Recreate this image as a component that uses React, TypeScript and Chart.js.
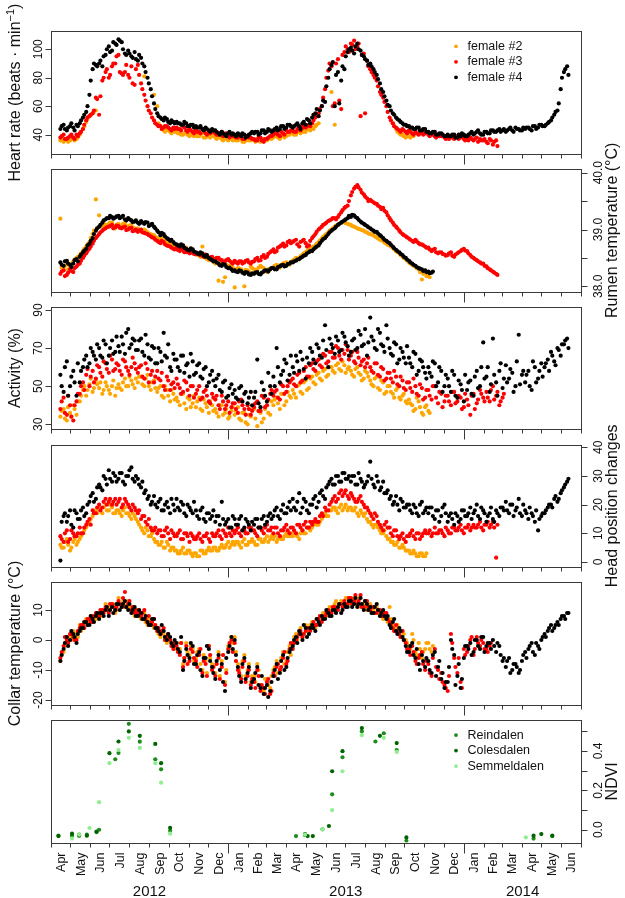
import { useEffect, useRef } from "react";
import { Chart, registerables } from "chart.js";
Chart.register(...registerables);

// ---------------- data ----------------
const X_START = "2012-04-01";
const X_END = "2014-07-01";
const SERIES_START = "2012-04-16";
const SAMPLE_STEP_DAYS = 5; // "A" readings every 5 days; "B" readings 2 days after each A
const B_OFFSET_DAYS = 2;

const MONTH_NAMES = ["Jan", "Feb", "Mar", "Apr", "May", "Jun", "Jul", "Aug", "Sep", "Oct", "Nov", "Dec"];
const YEAR_LABELS = ["2012", "2013", "2014"];
const YEAR_LABEL_DATES = ["2012-09-01", "2013-07-02", "2014-04-02"];

const FEMALE_NAMES = ["female #2", "female #3", "female #4"];
const SITE_NAMES = ["Reindalen", "Colesdalen", "Semmeldalen"];

// Heart rate (beats/min)
const hrF2 = [
  36, 35, 37, 36, 38, 37, 40, 44, 49, 53, 55, 57,
  null, null, null, null, null, null, null, null, null, null, null, null,
  null, null, 81, null, null, 68, 60, 46, 43, 44, 42, 43,
  42, 41, 40, 42, 39, 41, 40, 39, 41, 38, 40, 39,
  38, 39, 37, 38, 36, 38, 37, 36, 38, 35, 37, 36,
  36, 37, 35, 37, 36, 38, 38, 39, 37, 40, 39, 40,
  41, 40, 42, 43, 42, 44, 45, 46, 48, null, null, null,
  70, 47, null, null, null, null, null, null, null, null, null, null,
  null, null, null, null, null, null, null, 48, 44, 41, 40, 38,
  39, 40,
];
const hrF2B = [
  37, 36, 35, 37, 36, 38, 42, 46, 51, 54, 56, null,
  null, null, null, null, null, null, null, null, null, null, null, null,
  null, null, null, null, null, null, 48, 44, 42, 43, 41, 42,
  41, 40, 41, 40, 40, 39, 39, 40, 38, 39, 38, 40,
  37, 38, 36, 37, 37, 36, 36, 37, 35, 36, 36, 37,
  35, 36, 37, 36, 37, 37, 39, 38, 39, 38, 40, 41,
  40, 42, 41, 42, 44, 43, 44, 47, null, null, null, null,
  null, null, null, null, null, null, null, null, null, null, null, null,
  null, null, null, null, null, null, null, null, 42, 40, 39, 39,
  38, 39,
];
const hrF3 = [
  38, 40, 37, 39, 38, 40, 41, 44, 50, 53, 55, 66,
  54, 78, 84, 80, 88, 90, 96, 83, 84, 82, 88, 75,
  89, 76, 68, 60, 55, 50, 47, 46, 45, 46, 44, 45,
  45, 44, 46, 43, 44, 42, 43, 42, 44, 41, 42, 43,
  41, 40, 42, 40, 39, 40, 39, 38, 40, 37, 39, 38,
  37, 36, 38, 35, 37, 39, 40, 42, 39, 41, 43, 42,
  43, 42, 44, 46, 45, 47, 48, 52, 55, 60, 72, 85,
  88, 62, 93, 58, 98, 100, 104, 106, 102, 53, 97, 92,
  86, 82, 78, 70, 66, 60, 52, 48, 45, 43, 44, 42,
  43, 41, 42, 40, 42, 41, 40, 41, 39, 40, 39, 38,
  38, 39, 37, 39, 38, 37, 37, 38, 36, 38, 37, 36,
  35, 37, 33, 36,
];
const hrF3B = [
  39, 37, 38, 40, 37, 39, 42, 47, 52, 54, 57, 65,
  67, 80, 86, 82, 90, 95, 84, 82, 89, 80, 76, 86,
  82, 72, 64, 57, 52, 48, 46, 44, 46, 45, 43, 44,
  44, 43, 45, 42, 43, 41, 42, 41, 43, 40, 41, 42,
  40, 41, 39, 41, 38, 39, 38, 39, 37, 38, 38, 37,
  36, 38, 36, 37, 38, 39, 41, 40, 42, 40, 42, 43,
  42, 44, 43, 45, 46, 46, 50, 53, 58, 66, 80, 90,
  60, 90, 64, 96, 102, 98, 103, 100, 104, 96, 55, 88,
  84, 80, 74, 68, 63, 56, 50, 46, 44, 42, 43, 41,
  42, 40, 41, 41, 40, 42, 39, 40, 38, 39, 40, 37,
  37, 38, 38, 37, 39, 36, 36, 37, 37, 35, 36, 37,
  34, 36, 35, 32,
];
const hrF4 = [
  44, 47, 43, 46, 45, 47, 48, 52, 56, 68, 86, 89,
  90, 88, 96, 102, 99, 104, 107, 105, 97, 99, 95, 98,
  92, 94, 88, 80, 72, 62, 55, 52, 50, 51, 48, 49,
  49, 48, 47, 48, 46, 47, 46, 45, 44, 45, 43, 44,
  43, 41, 42, 40, 41, 40, 40, 41, 39, 40, 39, 41,
  41, 42, 41, 43, 42, 43, 43, 45, 44, 46, 45, 47,
  45, 47, 46, 48, 47, 50, 52, 55, 53, 60, 63, 80,
  89, 60, 84, 78, 86, 98, 101, 97, 104, 99, 95, 92,
  90, 86, 82, 76, 70, 64, 60, 55, 52, 50, 48, 47,
  46, 45, 44, 45, 43, 44, 42, 41, 42, 40, 41, 39,
  40, 39, 40, 38, 39, 40, 39, 41, 40, 42, 41, 40,
  42, 41, 43, 42, 44, 43, 42, 44, 43, 45, 44, 43,
  44, 45, 43, 46, 45, 47, 46, 48, 50, 54, 57, 72,
  84, 88,
];
const hrF4B = [
  46, 44, 45, 48, 43, 46, 50, 54, 60, 78, 90, 88,
  92, 95, 100, 98, 105, 103, 106, 100, 96, 97, 94, 93,
  96, 90, 84, 76, 67, 58, 53, 51, 52, 49, 50, 48,
  48, 47, 49, 46, 47, 45, 45, 46, 43, 44, 42, 43,
  42, 40, 41, 39, 42, 41, 39, 40, 41, 38, 40, 42,
  42, 40, 43, 41, 44, 42, 44, 43, 46, 44, 47, 46,
  46, 48, 44, 49, 51, 48, 54, 58, 57, 64, 74, 86,
  91, 82, 62, 88, 95, 100, 99, 102, 100, 96, 93, 89,
  88, 84, 79, 72, 67, 61, 57, 54, 51, 49, 47, 46,
  45, 44, 45, 43, 44, 42, 41, 42, 40, 41, 40, 39,
  39, 40, 38, 40, 41, 39, 40, 42, 41, 43, 40, 42,
  41, 43, 42, 43, 42, 44, 43, 45, 42, 44, 43, 45,
  45, 44, 46, 44, 47, 46, 47, 49, 52, 56, 62, 80,
  86, 82,
];

// Rumen temperature (°C)
const rumenF2 = [
  39.19, 38.3, 38.38, 38.34, 38.44, 38.5, 38.55, 38.62, 38.7, 38.78, 38.92, 39.53,
  39.25, 39.05, 39.08, 39.1, 39.12, 39.02, 39.1, 39.06, 39.12, 39.04, 39.08, 39.02,
  39.02, 38.98, 39.0, 38.95, 38.92, 38.9, 38.85, 38.82, 38.88, 38.8, 38.76, 38.74,
  38.7, 38.72, 38.66, 38.68, 38.62, 38.6, 38.58, 38.54, 38.7, 38.5, 38.46, 38.48,
  38.4, 38.1, 38.42, 38.16, 38.36, 38.38, 37.98, 38.32, 38.3, 38.0, 38.28, 38.35,
  38.3, 38.28, 38.36, 38.32, 38.25, 38.3, 38.34, 38.38, 38.33, 38.4, 38.42, 38.38,
  38.45, 38.5, 38.48, 38.56, 38.6, 38.64, 38.68, 38.72, 38.78, 38.84, 38.9, 38.95,
  39.0, 39.05, 39.08, 39.12, 39.14, 39.1, 39.08, 39.05, 39.02, 39.0, 38.98, 38.95,
  38.92, 38.9, 38.86, 38.82, 38.8, 38.75, 38.72, 38.68, 38.62, 38.58, 38.52, 38.48,
  38.42, 38.38, 38.35, 38.3, 38.12, 38.28, 38.2,
];
const rumenF2B = [
  38.33, 38.36, 38.3, 38.4, 38.47, 38.52, 38.58, 38.66, 38.74, 38.85, 38.98, 39.02,
  39.06, 39.1, 39.06, 39.12, 39.06, 39.08, 39.04, 39.1, 39.06, 39.07, 39.04, 39.0,
  39.0, 38.96, 38.98, 38.93, 38.9, 38.87, 38.84, 38.86, 38.82, 38.78, 38.75, 38.72,
  38.71, 38.68, 38.67, 38.64, 38.61, 38.59, 38.56, 38.52, 38.52, 38.48, 38.47, 38.43,
  38.41, 38.38, 38.08, 38.38, 38.34, 38.33, 38.3, 38.31, 38.27, 38.29, 38.26, 38.32,
  38.29, 38.33, 38.34, 38.28, 38.3, 38.32, 38.36, 38.35, 38.38, 38.41, 38.4, 38.43,
  38.47, 38.49, 38.53, 38.58, 38.62, 38.66, 38.7, 38.75, 38.81, 38.87, 38.92, 38.98,
  39.02, 39.07, 39.1, 39.13, 39.11, 39.09, 39.06, 39.04, 39.01, 38.99, 38.96, 38.93,
  38.91, 38.88, 38.84, 38.81, 38.77, 38.73, 38.7, 38.65, 38.6, 38.55, 38.5, 38.45,
  38.4, 38.36, 38.32, 38.25, 38.22, 38.18, 38.16,
];
const rumenF3 = [
  38.22, 38.28, 38.2, 38.3, 38.25, 38.35, 38.4, 38.5, 38.58, 38.66, 38.75, 38.85,
  38.92, 38.98, 39.02, 39.05, 39.08, 39.04, 39.06, 39.02, 39.05, 39.0, 39.03, 38.98,
  38.96, 39.0, 38.94, 38.92, 38.88, 38.85, 38.8, 38.76, 38.78, 38.72, 38.7, 38.66,
  38.68, 38.62, 38.64, 38.6, 38.58, 38.62, 38.56, 38.58, 38.54, 38.56, 38.5, 38.52,
  38.48, 38.5, 38.46, 38.44, 38.48, 38.42, 38.45, 38.4, 38.44, 38.42, 38.46, 38.4,
  38.44, 38.5, 38.46, 38.55, 38.52, 38.6, 38.65, 38.62, 38.7, 38.75, 38.72, 38.8,
  38.78, 38.82, 38.7, 38.8, 38.76, 38.72, 38.85, 38.92, 39.0, 39.05, 39.1, 39.15,
  39.18, 39.2, 39.22, 39.3, 39.38, 39.42, 39.6, 39.72, 39.78, 39.7, 39.62, 39.55,
  39.52, 39.48, 39.45, 39.4, 39.38, 39.3, 39.2, 39.12, 39.05, 38.98, 38.92, 38.88,
  38.84, 38.8, 38.82, 38.76, 38.74, 38.7, 38.68, 38.62, 38.66, 38.58, 38.6, 38.56,
  38.55, 38.6, 38.52, 38.58, 38.62, 38.66, 38.62, 38.55, 38.5, 38.46, 38.42, 38.4,
  38.35, 38.3, 38.26, 38.22,
];
const rumenF3B = [
  38.26, 38.18, 38.24, 38.27, 38.32, 38.38, 38.45, 38.54, 38.62, 38.7, 38.8, 38.88,
  38.95, 39.0, 39.04, 39.06, 39.02, 39.07, 39.03, 39.04, 38.99, 39.02, 38.97, 39.0,
  38.98, 38.95, 38.93, 38.9, 38.86, 38.82, 38.78, 38.8, 38.74, 38.71, 38.68, 38.65,
  38.64, 38.66, 38.6, 38.62, 38.59, 38.57, 38.57, 38.55, 38.52, 38.54, 38.51, 38.48,
  38.5, 38.47, 38.43, 38.46, 38.45, 38.4, 38.42, 38.44, 38.4, 38.45, 38.42, 38.43,
  38.48, 38.45, 38.52, 38.5, 38.57, 38.62, 38.6, 38.68, 38.72, 38.7, 38.78, 38.76,
  38.8, 38.74, 38.78, 38.82, 38.7, 38.8, 38.88, 38.96, 39.02, 39.08, 39.12, 39.16,
  39.2, 39.18, 39.26, 39.34, 39.4, 39.5, 39.66, 39.75, 39.74, 39.65, 39.58, 39.5,
  39.5, 39.46, 39.42, 39.36, 39.33, 39.25, 39.16, 39.08, 39.02, 38.95, 38.9, 38.86,
  38.82, 38.78, 38.79, 38.74, 38.72, 38.68, 38.65, 38.64, 38.6, 38.6, 38.57, 38.54,
  38.58, 38.54, 38.56, 38.6, 38.64, 38.63, 38.58, 38.52, 38.48, 38.44, 38.4, 38.36,
  38.32, 38.28, 38.24, 38.2,
];
const rumenF4 = [
  38.42, 38.36, 38.45, 38.38, 38.4, 38.48, 38.52, 38.6, 38.66, 38.75, 38.85, 38.98,
  39.05, 39.12, 39.18, 39.2, 39.22, 39.21, 39.24, 39.22, 39.18, 39.2, 39.16, 39.14,
  39.12, 39.15, 39.1, 39.12, 39.08, 39.05, 38.98, 38.9, 38.92, 38.85, 38.8, 38.78,
  38.74, 38.7, 38.72, 38.66, 38.63, 38.65, 38.6, 38.56, 38.58, 38.52, 38.5, 38.46,
  38.44, 38.4, 38.36, 38.38, 38.32, 38.3, 38.28, 38.25, 38.27, 38.22, 38.24, 38.2,
  38.22, 38.25, 38.21, 38.26, 38.28, 38.3, 38.32, 38.3, 38.35, 38.38, 38.36, 38.4,
  38.42, 38.45, 38.48, 38.52, 38.55, 38.6, 38.62, 38.68, 38.72, 38.8, 38.85, 38.92,
  38.98, 39.02, 39.08, 39.12, 39.16, 39.2, 39.22, 39.25, 39.2, 39.14, 39.1, 39.06,
  39.02, 38.98, 38.96, 38.9, 38.85, 38.8, 38.76, 38.7, 38.64, 38.6, 38.55, 38.5,
  38.45, 38.4, 38.36, 38.32, 38.3, 38.28, 38.26, 38.24,
];
const rumenF4B = [
  38.38, 38.44, 38.4, 38.34, 38.46, 38.44, 38.56, 38.63, 38.72, 38.8, 38.92, 39.02,
  39.08, 39.16, 39.2, 39.24, 39.19, 39.23, 39.2, 39.24, 39.16, 39.18, 39.13, 39.16,
  39.1, 39.12, 39.13, 39.06, 39.1, 39.02, 38.95, 38.94, 38.88, 38.83, 38.82, 38.75,
  38.72, 38.74, 38.68, 38.64, 38.67, 38.61, 38.58, 38.6, 38.54, 38.55, 38.48, 38.44,
  38.42, 38.37, 38.39, 38.34, 38.33, 38.27, 38.26, 38.28, 38.24, 38.25, 38.21, 38.23,
  38.24, 38.22, 38.24, 38.28, 38.26, 38.32, 38.3, 38.34, 38.37, 38.35, 38.39, 38.42,
  38.44, 38.47, 38.5, 38.54, 38.58, 38.62, 38.65, 38.7, 38.76, 38.83, 38.88, 38.95,
  39.0, 39.05, 39.1, 39.14, 39.18, 39.24, 39.26, 39.22, 39.17, 39.12, 39.08, 39.04,
  39.0, 38.96, 38.93, 38.88, 38.82, 38.78, 38.73, 38.67, 38.62, 38.57, 38.52, 38.47,
  38.42, 38.38, 38.34, 38.31, 38.27, 38.25, 38.23, 38.26,
];

// Activity (%)
const actF2 = [
  34, 38, 32, 36, 40, 35, 42, 48, 45, 51, 47, 53,
  49, 46, 52, 48, 50, 45, 51, 48, 54, 50, 53, 49,
  52, 55, 50, 56, 48, 53, 47, 50, 44, 48, 42, 46,
  44, 40, 46, 38, 43, 41, 39, 44, 37, 41, 36, 40,
  38, 34, 40, 36, 33, 37, 35, 39, 32, 36, 30, 34,
  38, 29, 36, 33, 40, 35, 40, 44, 38, 46, 42, 45,
  48, 44, 51, 46, 53, 49, 55, 51, 57, 53, 59, 56,
  60, 57, 62, 58, 61, 59, 58, 55, 60, 56, 54, 57,
  53, 50, 55, 48, 52, 47, 50, 46, 48, 44, 45, 42,
  43, 40, 38, 42, 36, 39, 37,
];
const actF2B = [
  37, 33, 39, 34, 38, 42, 45, 50, 48, 54, 49, 51,
  52, 48, 50, 46, 53, 49, 49, 52, 50, 55, 51, 54,
  55, 51, 54, 50, 52, 49, 49, 45, 50, 45, 48, 43,
  42, 46, 41, 44, 39, 45, 42, 38, 43, 39, 42, 37,
  36, 40, 35, 38, 34, 39, 37, 33, 36, 31, 35, 38,
  33, 37, 31, 38, 36, 42, 43, 41, 46, 40, 47, 44,
  46, 50, 47, 52, 48, 54, 52, 56, 54, 58, 55, 60,
  58, 61, 59, 63, 57, 60, 56, 59, 57, 53, 58, 55,
  51, 54, 49, 53, 46, 50, 47, 44, 49, 43, 46, 41,
  41, 37, 44, 39, 35, 40, 36,
];
const actF3 = [
  38, 44, 35, 40, 32, 42, 46, 52, 56, 50, 58, 54,
  60, 55, 62, 57, 64, 59, 61, 56, 63, 58, 60, 62,
  57, 61, 54, 59, 56, 52, 58, 53, 50, 55, 48, 52,
  54, 49, 47, 52, 45, 50, 46, 50, 44, 48, 42, 46,
  43, 40, 45, 38, 42, 39, 41, 36, 43, 38, 40, 35,
  39, 42, 37, 44, 40, 46, 45, 48, 43, 50, 47, 52,
  54, 50, 57, 53, 60, 55, 62, 58, 64, 60, 66, 63,
  68, 65, 70, 64, 67, 69, 66, 63, 68, 61, 64, 62,
  60, 57, 62, 55, 59, 54, 57, 52, 55, 50, 53, 48,
  52, 47, 50, 45, 49, 44, 48, 43, 50, 41, 46, 42,
  45, 40, 47, 42, 44, 39, 43, 35, 46, 41, 48, 44,
  47, 42, 50, 45, 40, 44,
];
const actF3B = [
  42, 36, 45, 34, 40, 46, 50, 48, 59, 55, 52, 61,
  57, 63, 59, 66, 58, 62, 58, 64, 60, 56, 65, 59,
  60, 55, 62, 52, 58, 55, 54, 57, 48, 53, 51, 49,
  51, 46, 53, 48, 50, 44, 48, 43, 47, 45, 41, 44,
  45, 38, 42, 40, 36, 41, 38, 42, 40, 35, 38, 37,
  41, 37, 45, 39, 43, 48, 47, 44, 51, 46, 50, 53,
  51, 56, 52, 58, 55, 61, 59, 63, 61, 67, 62, 68,
  65, 71, 66, 69, 72, 64, 68, 62, 65, 63, 60, 65,
  58, 62, 56, 60, 53, 57, 54, 58, 51, 55, 49, 52,
  49, 54, 46, 51, 43, 48, 45, 50, 44, 47, 39, 45,
  42, 47, 41, 45, 38, 46, 40, 45, 38, 43, 46, 42,
  44, 48, 43, 47, 42, 46,
];
const actF4 = [
  56, 47, 63, 50, 58, 45, 52, 60, 66, 62, 68, 64,
  70, 65, 72, 66, 74, 68, 71, 76, 67, 80, 72, 74,
  69, 75, 66, 72, 64, 70, 62, 68, 78, 65, 60, 67,
  64, 58, 66, 61, 55, 63, 57, 62, 54, 60, 52, 58,
  50, 56, 47, 53, 45, 51, 48, 43, 50, 46, 41, 47,
  44, 64, 39, 48, 42, 50, 55, 70, 52, 58, 62, 56,
  60, 66, 58, 64, 54, 62, 68, 62, 70, 65, 82, 60,
  72, 67, 74, 69, 76, 71, 68, 75, 70, 77, 72, 66,
  86, 74, 69, 78, 71, 82, 70, 66, 72, 64, 68, 62,
  65, 60, 67, 58, 63, 57, 60, 55, 62, 52, 58, 50,
  54, 47, 56, 44, 51, 42, 48, 53, 45, 58, 50, 73,
  55, 47, 75, 52, 58, 49, 61, 54, 57, 50, 77, 56,
  52, 58, 48, 60, 54, 62, 60, 64, 68, 63, 70, 66,
  72, 75,
];
const actF4B = [
  50, 60, 45, 55, 52, 62, 58, 64, 60, 70, 66, 72,
  66, 74, 62, 70, 67, 76, 68, 72, 78, 70, 75, 69,
  74, 68, 77, 65, 71, 62, 70, 63, 66, 72, 58, 64,
  60, 66, 57, 62, 67, 56, 61, 55, 59, 50, 56, 53,
  54, 48, 52, 44, 49, 46, 44, 49, 42, 47, 44, 40,
  47, 41, 52, 45, 57, 46, 50, 60, 56, 64, 53, 66,
  57, 63, 68, 59, 65, 70, 64, 72, 66, 74, 69, 75,
  70, 76, 68, 78, 73, 66, 74, 69, 79, 71, 80, 73,
  76, 70, 80, 72, 68, 75, 67, 73, 62, 70, 65, 71,
  62, 68, 56, 64, 60, 54, 57, 63, 50, 60, 47, 56,
  50, 58, 45, 53, 48, 56, 52, 46, 55, 49, 60, 54,
  60, 51, 56, 45, 62, 54, 52, 59, 47, 63, 51, 58,
  56, 50, 63, 52, 58, 55, 62, 58, 66, 61, 69, 72,
  74, 70,
];

// Head position changes
const headF2 = [
  6, 5, 8, 4, 7, 6, 8, 10, 12, 14, 16, 18,
  19, 17, 20, 18, 19, 17, 18, 16, 19, 17, 15, 16,
  14, 12, 10, 11, 9, 8, 7, 6, 5, 7, 4, 5,
  4, 3, 5, 3, 4, 2, 3, 2, 4, 3, 5, 4,
  5, 4, 6, 5, 7, 6, 6, 7, 5, 8, 6, 7,
  7, 6, 8, 7, 9, 8, 8, 7, 9, 8, 10, 9,
  9, 10, 8, 11, 10, 12, 12, 14, 13, 15, 17, 16,
  18, 19, 17, 20, 19, 18, 19, 18, 17, 18, 16, 15,
  14, 12, 13, 11, 10, 9, 8, 7, 6, 5, 6, 4,
  4, 3, 3, 2, 3, 2,
];
const headF2B = [
  5, 7, 6, 5, 8, 7, 9, 11, 13, 15, 17, 17,
  18, 19, 18, 20, 17, 18, 17, 18, 17, 16, 17, 15,
  13, 11, 12, 9, 10, 7, 6, 7, 5, 6, 5, 4,
  3, 4, 3, 4, 3, 3, 2, 4, 3, 4, 4, 5,
  4, 5, 5, 6, 5, 7, 7, 6, 7, 6, 7, 8,
  6, 8, 7, 8, 7, 9, 9, 8, 8, 9, 9, 10,
  10, 9, 10, 10, 12, 11, 13, 13, 14, 16, 16, 18,
  19, 18, 19, 18, 20, 19, 18, 19, 16, 17, 17, 14,
  13, 13, 12, 10, 11, 8, 7, 6, 7, 5, 5, 4,
  3, 4, 2, 3, 2, 3,
];
const headF3 = [
  9, 7, 11, 8, 10, 9, 12, 10, 13, 15, 18, 17,
  20, 19, 22, 21, 20, 22, 21, 19, 22, 20, 18, 19,
  17, 15, 16, 13, 12, 11, 10, 11, 9, 12, 8, 10,
  9, 11, 8, 10, 7, 9, 8, 10, 7, 9, 8, 10,
  9, 11, 8, 10, 12, 9, 10, 12, 9, 11, 10, 12,
  11, 9, 12, 10, 13, 11, 10, 12, 9, 11, 13, 10,
  12, 10, 13, 11, 14, 12, 13, 15, 14, 17, 19, 18,
  21, 23, 22, 25, 24, 23, 24, 22, 21, 23, 20, 19,
  17, 15, 16, 13, 11, 14, 12, 9, 11, 8, 10, 7,
  9, 11, 8, 10, 9, 11, 10, 9, 12, 10, 11, 9,
  11, 10, 12, 11, 13, 10, 12, 11, 13, 12, 14, 11,
  13, 12, 14, 1.5,
];
const headF3B = [
  8, 10, 7, 11, 9, 10, 10, 12, 14, 13, 17, 19,
  18, 21, 20, 22, 21, 20, 22, 20, 21, 19, 20, 18,
  18, 16, 14, 15, 11, 12, 11, 9, 11, 10, 11, 9,
  10, 8, 10, 9, 10, 8, 9, 8, 9, 10, 7, 9,
  10, 9, 11, 9, 10, 11, 11, 10, 11, 10, 12, 11,
  10, 12, 11, 12, 11, 12, 12, 10, 11, 12, 11, 12,
  11, 13, 12, 13, 12, 14, 14, 14, 16, 16, 18, 20,
  22, 21, 24, 23, 25, 22, 23, 21, 22, 21, 19, 18,
  16, 17, 14, 12, 13, 12, 10, 11, 9, 9, 8, 9,
  10, 9, 10, 8, 10, 10, 11, 10, 10, 11, 10, 12,
  10, 12, 11, 12, 11, 12, 13, 12, 12, 13, 12, 13,
  14, 13, 12, 13,
];
const headF4 = [
  0.5, 16, 14, 18, 12, 17, 15, 19, 17, 21, 24, 22,
  27, 25, 29, 32, 28, 30, 29, 31, 27, 30, 33, 28,
  29, 26, 24, 22, 20, 23, 19, 22, 18, 21, 17, 20,
  22, 18, 20, 16, 19, 17, 18, 15, 19, 14, 17, 16,
  14, 16, 21, 13, 15, 12, 15, 13, 16, 12, 14, 11,
  13, 15, 12, 16, 14, 17, 16, 19, 15, 20, 17, 21,
  22, 18, 24, 19, 21, 17, 20, 23, 21, 25, 22, 27,
  29, 27, 30, 28, 31, 29, 28, 30, 27, 29, 26, 28,
  35, 27, 30, 25, 28, 24, 22, 20, 23, 18, 21, 19,
  20, 17, 19, 16, 21, 18, 17, 19, 15, 18, 16, 20,
  14, 17, 13, 16, 15, 18, 16, 19, 17, 20, 15, 18,
  14, 17, 15, 18, 16, 19, 21, 17, 20, 18, 22, 16,
  18, 15, 17, 14, 11, 16, 17, 19, 20, 22, 21, 24,
  26, 28,
];
const headF4B = [
  14, 17, 16, 13, 18, 15, 18, 16, 20, 23, 21, 26,
  26, 30, 27, 29, 31, 28, 31, 28, 30, 32, 29, 30,
  27, 28, 25, 23, 21, 20, 21, 18, 20, 19, 22, 18,
  19, 21, 17, 20, 18, 21, 16, 18, 15, 17, 15, 18,
  16, 13, 15, 14, 12, 16, 13, 15, 11, 15, 13, 14,
  15, 12, 15, 13, 16, 15, 18, 16, 18, 17, 19, 18,
  19, 21, 17, 22, 18, 20, 22, 19, 24, 23, 26, 28,
  27, 30, 28, 31, 29, 30, 30, 27, 31, 28, 27, 30,
  29, 26, 28, 26, 24, 25, 23, 21, 20, 22, 19, 20,
  18, 20, 17, 20, 17, 19, 19, 16, 18, 14, 19, 17,
  16, 15, 17, 14, 18, 16, 17, 15, 18, 16, 19, 17,
  16, 19, 14, 17, 19, 18, 18, 20, 16, 19, 17, 20,
  17, 19, 16, 18, 15, 17, 18, 20, 19, 23, 22, 25,
  27, 29,
];

// Collar temperature (°C)
const collarF2 = [
  -7, -4, 0, 1, 3, 2, 5, 4, 7, 6, 8, 7,
  9, 8, 12, 10, 11, 9, 14, 12, 11, 13, 10, 8,
  10, 7, 9, 5, 6, 4, 3, 1, 2, -1, 0, -2,
  -1, -3, -8, -1, -5, -3, -6, -3, -10, -7, -2, -8,
  -11, -4, -7, -14, -2, 1, 1, -8, -12, -5, -10, -14,
  -12, -8, -15, -17, -13, -16, -10, -7, -10, -4, -7, -2,
  -1, 2, 3, 1, 5, 3, 6, 4, 7, 8, 9, 10,
  10, 12, 11, 13, 12, 14, 12, 14, 13, 11, 12, 10,
  12, 10, 11, 9, 7, 8, 11, 5, 4, 2, 3, 0,
  -2, 2, -4, -1, -6, -3, -1, -4,
];
const collarF2B = [
  -5, -2, 1, 0, 2, 1, 3, 6, 5, 8, 7, 9,
  8, 10, 10, 11, 12, 10, 12, 13, 12, 11, 11, 9,
  8, 9, 6, 7, 5, 5, 2, 3, 0, 1, -1, -3,
  -3, -1, -6, -4, -2, -7, -4, -8, -5, -11, -6, -9,
  -8, -12, -5, -10, -3, -1, -4, -10, -7, -12, -8, -12,
  -14, -10, -16, -13, -15, -12, -9, -11, -6, -8, -4, -5,
  1, 0, 4, 2, 3, 5, 5, 7, 6, 9, 8, 11,
  11, 13, 12, 12, 14, 13, 13, 12, 14, 12, 11, 11,
  10, 11, 9, 8, 8, 6, 7, 3, 5, 1, 2, -1,
  -3, 0, -5, -3, -4, -1, -3, -2,
];
const collarF3 = [
  -6, -2, 0, 2, 1, 0, 4, 5, 6, 7, 6, 9,
  8, 10, 11, 9, 12, 10, 13, 11, 16, 12, 10, 9,
  9, 8, 10, 6, 5, 7, 3, 2, 4, 1, 0, -3,
  -2, -5, -9, -2, -7, -4, -7, -5, -11, -8, -2, -10,
  -12, -6, -9, -15, -3, 0, -1, -10, -13, -7, -12, -15,
  -14, -10, -17, -16, -14, -18, -11, -9, -10, -6, -8, -3,
  -3, 0, 2, 1, 3, 4, 4, 5, 7, 6, 8, 10,
  9, 11, 10, 12, 13, 12, 14, 13, 12, 15, 11, 13,
  10, 11, 9, 10, 8, 9, 6, 4, 5, 2, 3, -1,
  -3, -2, -7, -6, -4, -10, -8, -12, -3, -10, -11, -15,
  -17, 2, -6, -11, -14, -3, -4, 0, -5, 1, -2, -1,
  -3, -2,
];
const collarF3B = [
  -4, 1, -1, 2, 0, 3, 5, 4, 7, 6, 8, 8,
  10, 9, 10, 12, 11, 11, 12, 14, 11, 13, 11, 10,
  9, 9, 7, 8, 6, 5, 4, 3, 0, 2, -2, -1,
  -4, -1, -6, -8, -3, -6, -9, -3, -7, -12, -5, -9,
  -8, -13, -5, -11, -1, -4, -7, -11, -9, -14, -10, -13,
  -16, -12, -15, -18, -13, -17, -12, -8, -9, -4, -7, -1,
  -1, 1, 3, 2, 4, 3, 6, 5, 8, 7, 9, 9,
  11, 10, 12, 11, 12, 14, 12, 15, 13, 11, 13, 11,
  11, 9, 10, 8, 9, 7, 5, 3, 3, 1, 0, -3,
  -5, -4, -8, -5, -8, -7, -11, -6, -9, -13, -14, -16,
  -12, -1, -9, -6, -16, -5, -2, 1, -3, -1, 0, -3,
  -4, -1,
];
const collarF4 = [
  -7, -3, 1, 0, 2, -1, 3, 4, 6, 5, 7, 8,
  7, 9, 10, 8, 11, 10, 12, 11, 13, 10, 9, 11,
  8, 9, 7, 6, 5, 7, 4, 2, 3, 0, 1, -2,
  -1, -4, -10, -3, -6, -2, -8, -4, -12, -6, -3, -9,
  -13, -5, -8, -17, -4, 1, 0, -9, -14, -6, -11, -16,
  -13, -9, -16, -18, -15, -17, -12, -8, -11, -5, -9, -4,
  -2, 1, 3, 0, 4, 2, 5, 3, 6, 8, 7, 9,
  8, 10, 11, 9, 12, 11, 13, 12, 11, 14, 10, 12,
  11, 9, 12, 8, 10, 7, 5, 6, 3, 4, 1, -2,
  -4, -1, -6, -8, -5, -9, -7, -11, -4, -9, -13, -16,
  -14, 0, -5, -12, -16, -6, -2, -1, -4, 0, -3, 1,
  -2, -1, 0, -4, -2, -7, -9, -6, -10, -8, -11, -7,
  -4, -3, -1, -5, -2, 0, 2, 3, 5, 4, 6, 7,
  8, 9,
];
const collarF4B = [
  -5, -1, -2, 3, 1, 2, 4, 6, 5, 8, 6, 9,
  9, 8, 11, 10, 9, 12, 10, 12, 11, 12, 10, 8,
  10, 7, 8, 5, 7, 4, 3, 5, 1, 2, -1, 0,
  -3, 1, -7, -5, -1, -8, -5, -10, -6, -2, -7, -11,
  -7, -10, -14, -6, -2, -3, -5, -12, -8, -13, -9, -14,
  -11, -15, -12, -16, -19, -14, -10, -13, -7, -10, -6, -3,
  0, -1, 2, 5, 1, 4, 4, 7, 5, 7, 10, 8,
  10, 9, 12, 10, 11, 13, 11, 14, 12, 12, 13, 10,
  9, 11, 10, 9, 8, 8, 4, 7, 2, 3, 0, -4,
  -2, -5, -3, -10, -7, -6, -10, -5, -12, -7, -11, -14,
  -9, -3, -15, -8, -13, -2, -3, -5, 0, -2, 1, -4,
  -1, -3, -2, -1, -5, -6, -7, -11, -8, -9, -10, -5,
  -6, -2, -4, -1, -3, 1, 1, 4, 3, 5, 5, 8,
  7, 9,
];

// NDVI per valley (date, value)
const reindalenDates = [
  "2012-04-13", "2012-05-04", "2012-05-15", "2012-05-27", "2012-06-11", "2012-06-15", "2012-07-10",
  "2012-07-15", "2012-07-31", "2012-08-17", "2012-09-10", "2012-09-19", "2012-10-03",
  "2013-04-16", "2013-04-30", "2013-05-27", "2013-06-11", "2013-06-27", "2013-07-27", "2013-08-17",
  "2013-08-30", "2013-09-19", "2013-10-04", "2014-04-19", "2014-05-18",
];
const reindalenNdvi = [
  -0.03, -0.03, -0.025, -0.025, -0.012, 0.0, 0.358,
  0.39, 0.538, 0.447, 0.358, 0.307, -0.005,
  -0.032, -0.028, 0.002, 0.18, 0.368, 0.5, 0.448,
  0.49, 0.405, -0.056, -0.045, -0.032,
];
const colesdalenDates = [
  "2012-04-13", "2012-05-04", "2012-05-15", "2012-05-27", "2012-06-11", "2012-07-01", "2012-07-15",
  "2012-07-31", "2012-08-17", "2012-09-10", "2012-09-19", "2012-10-03",
  "2013-04-30", "2013-05-04", "2013-05-12", "2013-06-06", "2013-06-11", "2013-06-27", "2013-07-27",
  "2013-08-24", "2013-09-19", "2013-10-04", "2014-04-19", "2014-05-01", "2014-05-18",
];
const colesdalenNdvi = [
  -0.032, -0.02, -0.03, -0.03, -0.01, 0.389, 0.448,
  0.499, 0.477, 0.436, 0.338, 0.01,
  -0.022, -0.032, -0.032, 0.019, 0.297, 0.399, 0.516,
  0.477, 0.44, -0.039, -0.03, -0.022, -0.03,
];
const semmeldalenDates = [
  "2012-05-04", "2012-05-15", "2012-05-31", "2012-06-15", "2012-07-01", "2012-07-15", "2012-07-31",
  "2012-08-17", "2012-09-10", "2012-09-19", "2012-10-03",
  "2013-04-30", "2013-05-27", "2013-06-11", "2013-06-27", "2013-07-27", "2013-08-30", "2013-09-19",
  "2014-04-07",
];
const semmeldalenNdvi = [
  -0.045, -0.025, 0.009, 0.14, 0.338, 0.405, 0.467,
  0.416, 0.338, 0.239, -0.02,
  -0.025, 0.002, 0.1, 0.297, 0.48, 0.467, 0.395,
  -0.039,
];

// ---------------- styling / layout ----------------
const W = 625;
const H = 898;
const PLOT_LEFT = 50.7;
const PLOT_RIGHT = 580.7;
const PANEL_TOP0 = 31.3;
const PANEL_STEP = 137.75;
const PANEL_H = 122.5;
const FONT = '"Liberation Sans", Arial, Helvetica, sans-serif';
const FRAME = "#3a3a3a";
const INK = "#111";
const COL_F2 = "#FFA500";
const COL_F3 = "#FF0000";
const COL_F4 = "#000000";
const COL_REIN = "#1E8B1E";
const COL_COLES = "#006400";
const COL_SEMM = "#90EE90";
const POINT_R = 2.1;

const ORIGIN = Date.UTC(2012, 3, 1);
function dayNum(s: string): number {
  const [y, m, d] = s.split("-").map(Number);
  return (Date.UTC(y, m - 1, d) - ORIGIN) / 86400000;
}
function sampled(vals: (number | null)[], offset: number) {
  const s = dayNum(SERIES_START) + offset;
  const out: { x: number; y: number }[] = [];
  vals.forEach((v, i) => {
    if (v !== null) out.push({ x: s + i * SAMPLE_STEP_DAYS, y: v });
  });
  return out;
}
const both = (a: (number | null)[], b: (number | null)[]) =>
  sampled(a, 0).concat(sampled(b, B_OFFSET_DAYS)).sort((p, q) => p.x - q.x);
function dated(dates: string[], vals: number[]) {
  return dates.map((d, i) => ({ x: dayNum(d), y: vals[i] }));
}

const monthStarts: { day: number; month: number }[] = [];
{
  let y = 2012, m = 3;
  const endDay = dayNum(X_END);
  for (;;) {
    const d = (Date.UTC(y, m, 1) - ORIGIN) / 86400000;
    if (d > endDay) break;
    monthStarts.push({ day: d, month: m });
    m++;
    if (m > 11) { m = 0; y++; }
  }
}

type Legend = { names: string[]; colors: string[] };
type PanelCfg = {
  idx: number;
  yMin: number;
  yMax: number;
  side: "left" | "right";
  ticks: number[];
  tickLabels: string[];
  title: string;
  titleSup?: string;
  titleTail?: string;
  datasets: { data: { x: number; y: number }[]; color: string }[];
  legend?: Legend;
  bottom?: boolean;
};

const femaleSets = (a: any, aB: any, b: any, bB: any, c: any, cB: any) => [
  { data: both(c, cB), color: COL_F4 },
  { data: both(b, bB), color: COL_F3 },
  { data: both(a, aB), color: COL_F2 },
];

const PANELS: PanelCfg[] = [
  {
    idx: 0, yMin: 26.6, yMax: 112.6, side: "left",
    ticks: [40, 60, 80, 100], tickLabels: ["40", "60", "80", "100"],
    title: "Heart rate (beats \u00B7 min", titleSup: "\u22121", titleTail: ")",
    datasets: femaleSets(hrF2, hrF2B, hrF3, hrF3B, hrF4, hrF4B),
    legend: { names: FEMALE_NAMES, colors: [COL_F2, COL_F3, COL_F4] },
  },
  {
    idx: 1, yMin: 37.908, yMax: 40.064, side: "right",
    ticks: [38, 38.5, 39, 39.5, 40], tickLabels: ["38.0", "", "39.0", "", "40.0"],
    title: "Rumen temperature (\u00B0C)",
    datasets: femaleSets(rumenF2, rumenF2B, rumenF3, rumenF3B, rumenF4, rumenF4B),
  },
  {
    idx: 2, yMin: 27.38, yMax: 91.68, side: "left",
    ticks: [30, 50, 70, 90], tickLabels: ["30", "50", "70", "90"],
    title: "Activity (%)",
    datasets: femaleSets(actF2, actF2B, actF3, actF3B, actF4, actF4B),
  },
  {
    idx: 3, yMin: -1.76, yMax: 40.96, side: "right",
    ticks: [0, 10, 20, 30, 40], tickLabels: ["0", "10", "20", "30", "40"],
    title: "Head position changes",
    datasets: femaleSets(headF2, headF2B, headF3, headF3B, headF4, headF4B),
  },
  {
    idx: 4, yMin: -21.6, yMax: 19.23, side: "left",
    ticks: [-20, -10, 0, 10], tickLabels: ["-20", "-10", "0", "10"],
    title: "Collar temperature (\u00B0C)",
    datasets: femaleSets(collarF2, collarF2B, collarF3, collarF3B, collarF4, collarF4B),
  },
  {
    idx: 5, yMin: -0.065, yMax: 0.557, side: "right",
    ticks: [0, 0.1, 0.2, 0.3, 0.4, 0.5], tickLabels: ["0.0", "", "0.2", "", "0.4", ""],
    title: "NDVI",
    datasets: [
      { data: dated(semmeldalenDates, semmeldalenNdvi), color: COL_SEMM },
      { data: dated(colesdalenDates, colesdalenNdvi), color: COL_COLES },
      { data: dated(reindalenDates, reindalenNdvi), color: COL_REIN },
    ],
    legend: { names: SITE_NAMES, colors: [COL_REIN, COL_COLES, COL_SEMM] },
    bottom: true,
  },
];

function rotText(ctx: CanvasRenderingContext2D, text: string, x: number, y: number, align: CanvasTextAlign, baseline: CanvasTextBaseline) {
  ctx.save();
  ctx.translate(x, y);
  ctx.rotate(-Math.PI / 2);
  ctx.textAlign = align;
  ctx.textBaseline = baseline;
  ctx.fillText(text, 0, 0);
  ctx.restore();
}

function decorPlugin(p: PanelCfg) {
  return {
    id: "decor" + p.idx,
    afterDraw(chart: any) {
      const ctx: CanvasRenderingContext2D = chart.ctx;
      const { left, right, top, bottom } = chart.chartArea;
      const xs = chart.scales.x;
      const ys = chart.scales.y;
      ctx.save();
      ctx.strokeStyle = FRAME;
      ctx.lineWidth = 1;
      const L = Math.round(left) + 0.5, R = Math.round(right) + 0.5;
      const T = Math.round(top) + 0.5, B = Math.round(bottom) + 0.5;
      ctx.strokeRect(L, T, R - L, B - T);
      ctx.beginPath();
      monthStarts.forEach((ms) => {
        const px = Math.round(xs.getPixelForValue(ms.day)) + 0.5;
        const len = ms.month === 0 ? 10 : 4;
        ctx.moveTo(px, B);
        ctx.lineTo(px, B + len);
      });
      ctx.stroke();
      ctx.fillStyle = INK;
      ctx.font = `12px ${FONT}`;
      ctx.beginPath();
      p.ticks.forEach((t) => {
        const py = Math.round(ys.getPixelForValue(t)) + 0.5;
        if (p.side === "left") { ctx.moveTo(L, py); ctx.lineTo(L - 6, py); }
        else { ctx.moveTo(R, py); ctx.lineTo(R + 6, py); }
      });
      ctx.stroke();
      p.ticks.forEach((t, i) => {
        const lab = p.tickLabels[i];
        if (!lab) return;
        const py = ys.getPixelForValue(t);
        const x = p.side === "left" ? left - 9 : right + 21;
        rotText(ctx, lab, x, py, "center", "alphabetic");
      });
      const cy = (top + bottom) / 2;
      const tx = p.side === "left" ? 20 : 617;
      ctx.font = `16px ${FONT}`;
      if (p.titleSup) {
        const w1 = ctx.measureText(p.title).width;
        ctx.font = `11px ${FONT}`;
        const w2 = ctx.measureText(p.titleSup).width;
        ctx.font = `16px ${FONT}`;
        const w3 = ctx.measureText(p.titleTail || "").width;
        const total = w1 + w2 + w3;
        ctx.save();
        ctx.translate(tx, cy);
        ctx.rotate(-Math.PI / 2);
        ctx.textAlign = "left";
        ctx.textBaseline = "alphabetic";
        ctx.fillText(p.title, -total / 2, 0);
        ctx.font = `11px ${FONT}`;
        ctx.fillText(p.titleSup, -total / 2 + w1, -6);
        ctx.font = `16px ${FONT}`;
        ctx.fillText(p.titleTail || "", -total / 2 + w1 + w2, 0);
        ctx.restore();
      } else {
        rotText(ctx, p.title, tx, cy, "center", "alphabetic");
      }
      if (p.legend) {
        ctx.font = `12.5px ${FONT}`;
        p.legend.names.forEach((n, i) => {
          const ly = top + 15 + i * 15.5;
          ctx.fillStyle = p.legend!.colors[i];
          ctx.beginPath();
          ctx.arc(456, ly, 1.9, 0, Math.PI * 2);
          ctx.fill();
          ctx.fillStyle = INK;
          ctx.textAlign = "left";
          ctx.textBaseline = "middle";
          ctx.fillText(n, 467.5, ly);
        });
      }
      if (p.bottom) {
        ctx.fillStyle = INK;
        ctx.font = `12.5px ${FONT}`;
        for (let i = 0; i < monthStarts.length - 1; i++) {
          const a = xs.getPixelForValue(monthStarts[i].day);
          const b = xs.getPixelForValue(monthStarts[i + 1].day);
          rotText(ctx, MONTH_NAMES[monthStarts[i].month], (a + b) / 2 + 1, B + 9, "right", "middle");
        }
        ctx.font = `15px ${FONT}`;
        ctx.textAlign = "center";
        ctx.textBaseline = "alphabetic";
        YEAR_LABELS.forEach((yl, i) => {
          ctx.fillText(yl, xs.getPixelForValue(dayNum(YEAR_LABEL_DATES[i])), 896);
        });
      }
      ctx.restore();
    },
  };
}

function Panel({ p }: { p: PanelCfg }) {
  const ref = useRef<HTMLCanvasElement>(null);
  useEffect(() => {
    const top = PANEL_TOP0 + p.idx * PANEL_STEP;
    const bottom = top + PANEL_H;
    const chart = new Chart(ref.current as HTMLCanvasElement, {
      type: "scatter",
      data: {
        datasets: p.datasets.map((d) => ({
          data: d.data,
          backgroundColor: d.color,
          borderColor: d.color,
          pointRadius: POINT_R,
          pointHoverRadius: POINT_R,
          pointBorderWidth: 0,
        })),
      },
      options: {
        responsive: false,
        animation: false,
        devicePixelRatio: 1,
        events: [],
        layout: { padding: { left: PLOT_LEFT, right: W - PLOT_RIGHT, top, bottom: H - bottom } },
        plugins: { legend: { display: false }, tooltip: { enabled: false }, title: { display: false } },
        scales: {
          x: { type: "linear", min: dayNum(X_START), max: dayNum(X_END), display: false },
          y: { type: "linear", min: p.yMin, max: p.yMax, display: false },
        },
      },
      plugins: [decorPlugin(p)],
    } as any);
    return () => chart.destroy();
  }, []);
  return (
    <canvas
      ref={ref}
      width={W}
      height={H}
      style={{ position: "absolute", left: 0, top: 0, width: W, height: H }}
    />
  );
}

export default function App() {
  return (
    <div style={{ position: "absolute", left: 0, top: 0, width: W, height: H, background: "#fff", overflow: "hidden" }}>
      {PANELS.map((p) => (
        <Panel key={p.idx} p={p} />
      ))}
    </div>
  );
}
